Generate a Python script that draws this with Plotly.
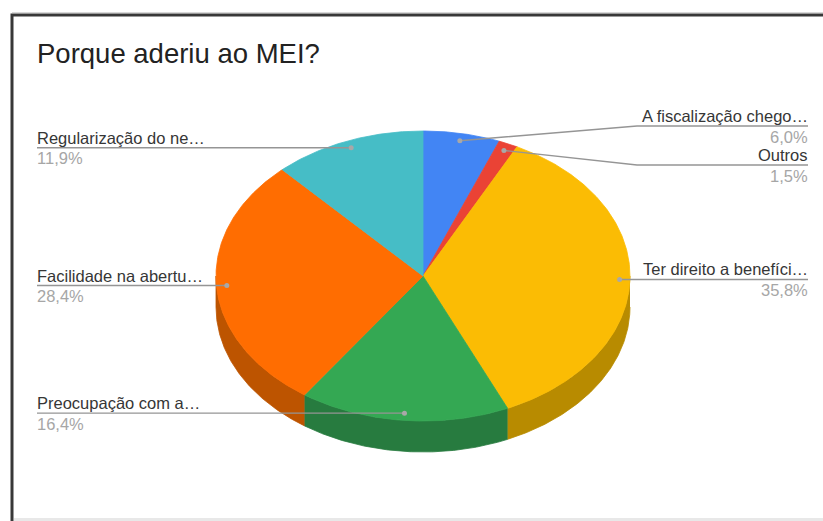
import numpy as np
import plotly.graph_objects as go

# Survey answers, in drawing order (clockwise from 12 o'clock)
labels = ["A fiscalização chego…", "Outros", "Ter direito a benefíci…",
          "Preocupação com a…", "Facilidade na abertu…", "Regularização do ne…"]
values = [6.0, 1.5, 35.8, 16.4, 28.4, 11.9]
top_colors = ["#4285f4", "#ea4335", "#fbbc04", "#34a853", "#ff6d01", "#46bdc6"]
side_colors = ["#2f5fae", "#a83026", "#b88b00", "#277b3f", "#bd5400", "#31878d"]

W, H = 823, 521
CX, CY, RX, RY, DEPTH = 423, 276, 207, 145, 31
DOT_R = 0.95
FONT = "Liberation Sans, Arial, sans-serif"
LEFT_X, RIGHT_X, BEND_X = 37, 808, 637
# Label lines that are pushed apart to avoid overlapping neighbours
label_y_override = {0: 126, 1: 165}


def ell(theta, r=1.0, dy=0.0):
    t = np.radians(theta)
    return CX + RX * r * np.sin(t), CY - RY * r * np.cos(t) + dy


total = float(sum(values))
angles = np.concatenate([[0], np.cumsum(values)]) / total * 360.0

fig = go.Figure()

# Side walls of the 3D pie (only the front half is visible)
for i, v in enumerate(values):
    a, b = angles[i], angles[i + 1]
    lo, hi = max(a, 90.0), min(b, 270.0)
    if lo >= hi:
        continue
    th = np.linspace(lo, hi, max(3, int((hi - lo) * 2)))
    xt, yt = ell(th)
    xb, yb = ell(th[::-1], dy=DEPTH)
    fig.add_trace(go.Scatter(
        x=np.concatenate([xt, xb]), y=np.concatenate([yt, yb]),
        fill="toself", fillcolor=side_colors[i], mode="lines",
        line=dict(color=side_colors[i], width=0.8), hoverinfo="skip"))

# Top faces
for i, v in enumerate(values):
    a, b = angles[i], angles[i + 1]
    th = np.linspace(a, b, max(3, int((b - a) * 2)))
    xs, ys = ell(th)
    fig.add_trace(go.Scatter(
        x=np.concatenate([[CX], xs, [CX]]), y=np.concatenate([[CY], ys, [CY]]),
        fill="toself", fillcolor=top_colors[i], mode="lines",
        line=dict(color=top_colors[i], width=0.8), hoverinfo="skip"))

annotations = []
for i, (lab, v) in enumerate(zip(labels, values)):
    mid = (angles[i] + angles[i + 1]) / 2
    dx, dy = ell(mid, DOT_R)
    ly = label_y_override.get(i, dy)
    pct = f"{v / total * 100:.1f}%".replace(".", ",")
    if mid < 180:
        if abs(ly - dy) > 0.5:
            lx, lyy = [RIGHT_X, BEND_X, dx], [ly, ly, dy]
        else:
            lx, lyy = [RIGHT_X, dx], [ly, dy]
        tx, anchor = RIGHT_X + 1, "right"
    else:
        lx, lyy = [LEFT_X, dx], [ly, dy]
        tx, anchor = LEFT_X - 1, "left"
    fig.add_trace(go.Scatter(x=lx, y=lyy, mode="lines",
                             line=dict(color="#959595", width=1.4), hoverinfo="skip"))
    fig.add_trace(go.Scatter(x=[dx], y=[dy], mode="markers",
                             marker=dict(color="#a8a8a8", size=5), hoverinfo="skip"))
    annotations.append(dict(x=tx, y=ly - 10, text=lab, xanchor=anchor, yanchor="middle",
                            showarrow=False, borderpad=0,
                            font=dict(family=FONT, size=16.5, color="#363636")))
    annotations.append(dict(x=tx, y=ly + 10.5, text=pct, xanchor=anchor, yanchor="middle",
                            showarrow=False, borderpad=0,
                            font=dict(family=FONT, size=16.5, color="#a6a6a6")))

annotations.append(dict(x=LEFT_X - 1, y=53, text="Porque aderiu ao MEI?", xanchor="left",
                        yanchor="middle", showarrow=False, borderpad=0,
                        font=dict(family=FONT, size=27.5, color="#222222")))

shapes = [
    # card frame
    dict(type="rect", x0=12, y0=15, x1=W + 20, y1=H + 20,
         line=dict(color="#383838", width=3), layer="below"),
    dict(type="line", x0=12, y0=12.5, x1=W, y1=12.5,
         line=dict(color="#d8d8d8", width=1), layer="below"),
    dict(type="rect", x0=14, y0=518, x1=W, y1=H, fillcolor="#e8e8e8",
         line=dict(width=0), layer="below"),
]

fig.update_layout(
    width=W, height=H, margin=dict(l=0, r=0, t=0, b=0),
    paper_bgcolor="white", plot_bgcolor="white", showlegend=False,
    xaxis=dict(range=[0, W], visible=False, fixedrange=True),
    yaxis=dict(range=[H, 0], visible=False, fixedrange=True),
    annotations=annotations, shapes=shapes, hovermode=False,
)

fig.write_html("out.html")
